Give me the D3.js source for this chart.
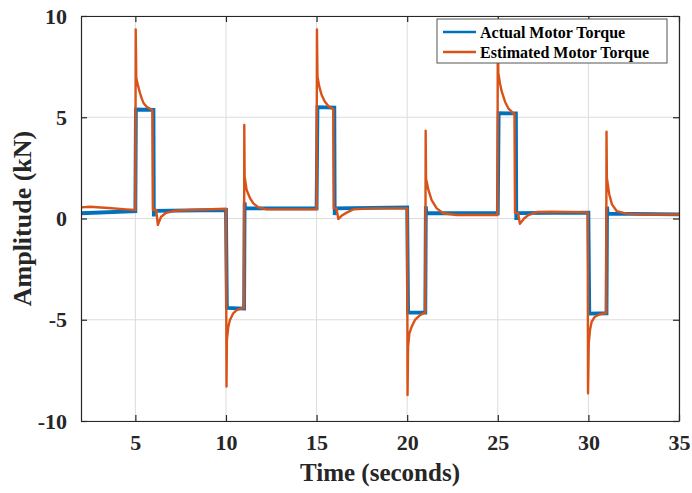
<!DOCTYPE html>
<html><head><meta charset="utf-8">
<script src="https://cdn.jsdelivr.net/npm/d3@7"></script>
<style>body{margin:0;background:#fff;} svg{display:block;}</style>
</head><body>
<svg id="c" width="692" height="493"></svg>
<script>
// ---- data ----
const xTicks = [5, 10, 15, 20, 25, 30, 35];
const yTicks = [-10, -5, 0, 5, 10];
const yTickLabels = ["-10", "-5", "0", "5", "10"];
const seriesNames = ["Actual Motor Torque", "Estimated Motor Torque"];

const actualT = [2, 5.0, 5.03, 6.0, 6.02, 6.04, 10.0, 10.05, 11.0, 11.03, 11.06, 15.0, 15.05, 15.98, 16.0, 16.04, 20.0, 20.05, 21.0, 21.03, 21.06, 25.0, 25.05, 26.0, 26.02, 26.05, 30.0, 30.05, 31.0, 31.03, 31.06, 35];
const actualV = [0.26, 0.36, 5.38, 5.36, 0.1, 0.38, 0.42, -4.42, -4.45, 0.8, 0.5, 0.5, 5.5, 5.48, 0.17, 0.5, 0.55, -4.65, -4.65, 0.6, 0.26, 0.26, 5.2, 5.19, -0.07, 0.27, 0.29, -4.7, -4.68, 0.58, 0.24, 0.2];

const estT = [2, 2.5, 3.5, 4.5, 5.0, 5.02, 5.05, 5.16, 5.26, 5.35, 5.44, 5.62, 5.81, 5.94, 5.97, 6.15, 6.24, 6.42, 6.7, 7.16, 8, 10.0,
  10.03, 10.05, 10.13, 10.22, 10.4, 10.59, 10.87, 11.0, 11.01, 11.03, 11.14, 11.33, 11.51, 11.79, 12.25, 15.0,
  15.02, 15.05, 15.15, 15.28, 15.46, 15.65, 15.84, 15.92, 15.95, 16.1, 16.2, 16.4, 16.66, 17.03, 18, 20.0,
  20.02, 20.05, 20.12, 20.25, 20.43, 20.71, 20.98, 21.0, 21.02, 21.04, 21.17, 21.35, 21.63, 21.99, 22.73, 24.98,
  25.0, 25.03, 25.12, 25.22, 25.4, 25.58, 25.86, 25.92, 25.95, 26.12, 26.22, 26.45, 26.69, 27.15, 28, 29.96,
  29.98, 30.02, 30.09, 30.18, 30.36, 30.64, 30.92, 30.98, 31.0, 31.02, 31.15, 31.3, 31.57, 32.11, 33, 35];
const estV = [0.55, 0.58, 0.52, 0.45, 0.42, 9.34, 6.95, 6.51, 6.18, 5.93, 5.72, 5.52, 5.42, 5.36, 0.42, 0.42, -0.32, 0.09, 0.28, 0.38, 0.42, 0.48,
  -8.3, -6.0, -5.34, -5.01, -4.68, -4.52, -4.44, -4.42, 4.62, 2.07, 1.41, 1.0, 0.75, 0.55, 0.45, 0.45,
  9.34, 7.0, 6.51, 6.1, 5.77, 5.56, 5.44, 5.42, 0.5, 0.5, -0.03, 0.15, 0.29, 0.45, 0.5, 0.5,
  -8.72, -6.33, -5.67, -5.34, -5.01, -4.77, -4.65, -4.63, 4.34, 1.98, 1.41, 0.91, 0.5, 0.26, 0.17, 0.17,
  9.0, 7.17, 6.68, 6.26, 5.77, 5.44, 5.19, 5.17, 0.28, 0.28, -0.26, 0.0, 0.17, 0.32, 0.33, 0.3,
  -8.63, -6.17, -5.5, -5.1, -4.85, -4.73, -4.68, -4.67, 4.29, 2.0, 1.2, 0.7, 0.36, 0.24, 0.2, 0.2];

// ---- layout ----
const L = 81, R = 679, T = 16, B = 421;
const svg = d3.select("#c");
const x = d3.scaleLinear().domain([2, 35]).range([L, R]);
const y = d3.scaleLinear().domain([-10, 10]).range([B, T]);
const font = "'Liberation Serif','Times New Roman',serif";
const axisCol = "#262626";

// grid
const g = svg.append("g");
g.selectAll(".gx").data(xTicks).join("line")
  .attr("x1", d => x(d)).attr("x2", d => x(d)).attr("y1", T).attr("y2", B)
  .attr("stroke", "#dcdcdc").attr("stroke-width", 1);
g.selectAll(".gy").data(yTicks).join("line")
  .attr("x1", L).attr("x2", R).attr("y1", d => y(d)).attr("y2", d => y(d))
  .attr("stroke", "#dcdcdc").attr("stroke-width", 1);

// lines
const clip = svg.append("clipPath").attr("id", "cp").append("rect")
  .attr("x", L).attr("y", T).attr("width", R - L).attr("height", B - T);
const line = d3.line().x(d => x(d[0])).y(d => y(d[1]));
const actual = actualT.map((t, i) => [t, actualV[i]]);
const est = estT.map((t, i) => [t, estV[i]]);
svg.append("path").datum(actual).attr("d", line).attr("fill", "none")
  .attr("stroke", "#0072BD").attr("stroke-width", 3.8).attr("clip-path", "url(#cp)");
svg.append("path").datum(est).attr("d", line).attr("fill", "none")
  .attr("stroke", "#D95319").attr("stroke-width", 2.4).attr("stroke-linejoin", "round").attr("clip-path", "url(#cp)");

// axes
const tl = -6;
const axB = svg.append("g").attr("transform", `translate(0,${B})`)
  .call(d3.axisBottom(x).tickValues(xTicks).tickSizeInner(tl).tickSizeOuter(0).tickPadding(13));
const axT = svg.append("g").attr("transform", `translate(0,${T})`)
  .call(d3.axisTop(x).tickValues(xTicks).tickSizeInner(tl).tickSizeOuter(0).tickFormat(""));
const axL = svg.append("g").attr("transform", `translate(${L},0)`)
  .call(d3.axisLeft(y).tickValues(yTicks).tickSizeInner(tl).tickSizeOuter(0).tickPadding(14)
    .tickFormat((d, i) => yTickLabels[i]));
const axR = svg.append("g").attr("transform", `translate(${R},0)`)
  .call(d3.axisRight(y).tickValues(yTicks).tickSizeInner(tl).tickSizeOuter(0).tickFormat(""));
[axB, axT, axL, axR].forEach(a => {
  a.select(".domain").attr("stroke", axisCol).attr("stroke-width", 1.2);
  a.selectAll(".tick line").attr("stroke", axisCol).attr("stroke-width", 1.2);
  a.selectAll("text").attr("fill", axisCol).style("font-family", font)
    .style("font-weight", "bold").style("font-size", "22px");
});
axB.selectAll("text").attr("dy", "0.71em");

// axis labels
svg.append("text").attr("x", (L + R) / 2).attr("y", 481).attr("text-anchor", "middle")
  .style("font-family", font).style("font-weight", "bold").style("font-size", "25px")
  .attr("fill", axisCol).text("Time (seconds)");
svg.append("text").attr("transform", `translate(31,${(T + B) / 2}) rotate(-90)`)
  .attr("text-anchor", "middle")
  .style("font-family", font).style("font-weight", "bold").style("font-size", "26px")
  .attr("fill", axisCol).text("Amplitude (kN)");

// legend
const lg = svg.append("g");
lg.append("rect").attr("x", 437).attr("y", 19).attr("width", 230).attr("height", 44)
  .attr("fill", "#fff").attr("stroke", "#555").attr("stroke-width", 1);
const colors = ["#0072BD", "#D95319"];
seriesNames.forEach((n, i) => {
  const yy = 32 + i * 20;
  lg.append("line").attr("x1", 443).attr("x2", 476).attr("y1", yy).attr("y2", yy)
    .attr("stroke", colors[i]).attr("stroke-width", 2.5);
  lg.append("text").attr("x", 480).attr("y", yy).attr("dy", "0.35em")
    .style("font-family", font).style("font-weight", "bold").style("font-size", "16px")
    .attr("fill", "#000").text(n);
});
</script>
</body></html>
